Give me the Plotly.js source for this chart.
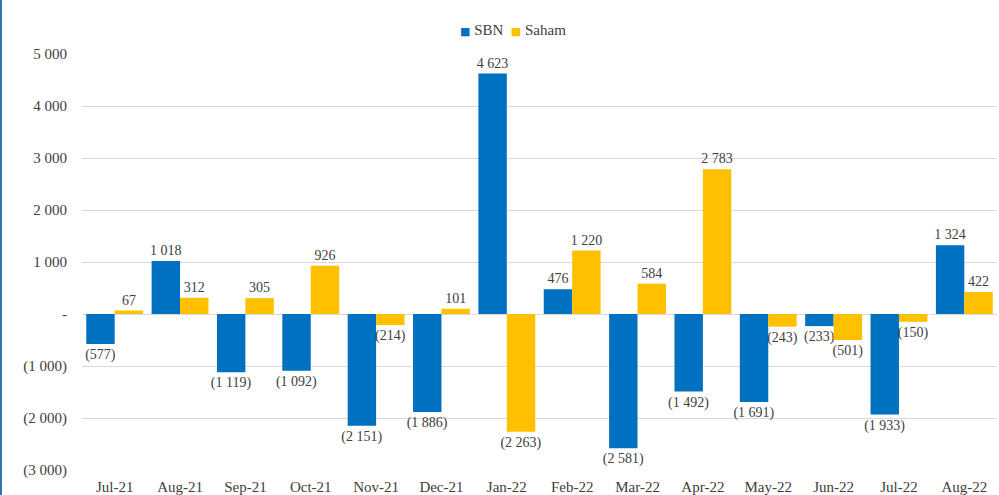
<!DOCTYPE html>
<html>
<head>
<meta charset="utf-8">
<script src="https://cdn.plot.ly/plotly-3.0.1.min.js"></script>
<style>
html,body{margin:0;padding:0;background:#fff;}
#wrap{width:997px;height:495px;border-left:2px solid #2E75B6;}
#chart{width:997px;height:495px;}
</style>
</head>
<body>
<div id="wrap"><div id="chart"></div></div>
<script>
const categories = ["Jul-21","Aug-21","Sep-21","Oct-21","Nov-21","Dec-21","Jan-22","Feb-22","Mar-22","Apr-22","May-22","Jun-22","Jul-22","Aug-22"];
const sbn = [-577, 1018, -1119, -1092, -2151, -1886, 4623, 476, -2581, -1492, -1691, -233, -1933, 1324];
const saham = [67, 312, 305, 926, -214, 101, -2263, 1220, 584, 2783, -243, -501, -150, 422];
const yTickVals = [-3000, -2000, -1000, 0, 1000, 2000, 3000, 4000, 5000];
const seriesNames = ["SBN", "Saham"];
const seriesColors = ["#0070C0", "#FFC000"];

function fmt(v) {
  if (v === 0) return "-";
  const s = Math.abs(v).toString().replace(/\B(?=(\d{3})+(?!\d))/g, "\u00A0");
  return v < 0 ? "(" + s + ")" : s;
}

const FONT = "Liberation Serif, serif";
const TXT = "#404040";

const traces = [sbn, saham].map((vals, i) => ({
  type:"bar", name:seriesNames[i], x:categories, y:vals, marker:{color:seriesColors[i]},
  text:vals.map(fmt), textposition:"outside", cliponaxis:false, constraintext:"none",
  textfont:{family:FONT, size:14, color:TXT}, hoverinfo:"x+y"
}));

const legendText = seriesNames.map((n, i) =>
  "<span style='color:" + seriesColors[i] + "; font-family:DejaVu Sans; font-size:11px'>\u25A0</span>\u00A0" + n
).join("\u00A0\u00A0");

const layout = {
  width:997, height:495,
  margin:{l:80, r:2, t:54, b:25},
  paper_bgcolor:"#fff", plot_bgcolor:"#fff",
  font:{family:FONT, size:14, color:TXT},
  barmode:"group", bargap:0.13, bargroupgap:0,
  showlegend:false,
  annotations:[{xref:"paper", yref:"paper", x:0.471, y:1.0577, xanchor:"center", yanchor:"middle",
                showarrow:false, text:legendText, font:{family:FONT, size:15, color:TXT}}],
  xaxis:{type:"category", showgrid:false, zeroline:false, showline:false, ticks:"",
         ticklabelstandoff:6,
         tickfont:{family:FONT, size:15, color:TXT}, automargin:false},
  yaxis:{range:[-3000,5000], tickvals:yTickVals, ticktext:yTickVals.map(fmt),
         showgrid:true, gridcolor:"#D9D9D9", gridwidth:1, zeroline:true, zerolinecolor:"#D9D9D9", zerolinewidth:1,
         showline:false, ticks:"", ticklabelstandoff:14,
         tickfont:{family:FONT, size:15, color:TXT}, automargin:false}
};

Plotly.newPlot("chart", traces, layout, {displayModeBar:false, staticPlot:true});
</script>
</body>
</html>
